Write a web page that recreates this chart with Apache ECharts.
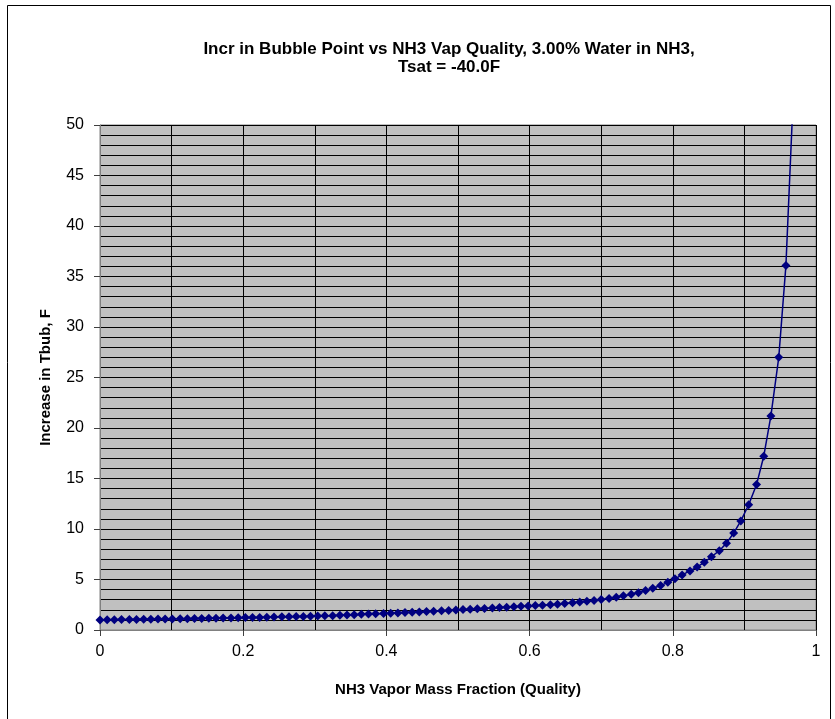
<!DOCTYPE html>
<html>
<head>
<meta charset="utf-8">
<script src="https://cdn.jsdelivr.net/npm/echarts@6/dist/echarts.min.js"></script>
<style>
  html, body { margin: 0; padding: 0; background: #fff; }
  #chart { width: 835px; height: 719px; }
</style>
</head>
<body>
<div id="chart"></div>
<script>
// vapor quality (x)
const quality = [
  0, 0.010, 0.020, 0.030, 0.041, 0.051, 0.061, 0.071, 0.081, 0.091,
  0.101, 0.112, 0.122, 0.132, 0.142, 0.152, 0.162, 0.172, 0.183, 0.193,
  0.203, 0.213, 0.223, 0.233, 0.243, 0.254, 0.264, 0.274, 0.284, 0.294,
  0.304, 0.314, 0.325, 0.335, 0.345, 0.355, 0.365, 0.375, 0.385, 0.396,
  0.406, 0.416, 0.426, 0.436, 0.446, 0.456, 0.466, 0.477, 0.487, 0.497,
  0.507, 0.517, 0.527, 0.537, 0.548, 0.558, 0.568, 0.578, 0.588, 0.598,
  0.608, 0.618, 0.629, 0.639, 0.649, 0.660, 0.670, 0.680, 0.690, 0.700,
  0.711, 0.721, 0.731, 0.742, 0.752, 0.762, 0.772, 0.783, 0.793, 0.803,
  0.813, 0.824, 0.834, 0.844, 0.854, 0.865, 0.875, 0.885, 0.895, 0.906,
  0.917, 0.927, 0.937, 0.948, 0.958, 0.968
]
// increase in bubble point temperature, F
const tbubIncrease = [
  1.00, 1.01, 1.02, 1.03, 1.04, 1.05, 1.06, 1.07, 1.08, 1.09,
  1.10, 1.11, 1.12, 1.14, 1.15, 1.16, 1.17, 1.19, 1.20, 1.21,
  1.23, 1.24, 1.25, 1.27, 1.28, 1.30, 1.31, 1.33, 1.34, 1.36,
  1.38, 1.40, 1.42, 1.45, 1.49, 1.52, 1.55, 1.58, 1.60, 1.63,
  1.66, 1.69, 1.73, 1.76, 1.79, 1.83, 1.86, 1.90, 1.94, 1.98,
  2.02, 2.06, 2.10, 2.14, 2.18, 2.22, 2.26, 2.30, 2.34, 2.38,
  2.42, 2.46, 2.50, 2.56, 2.62, 2.69, 2.76, 2.84, 2.92, 3.02,
  3.13, 3.25, 3.38, 3.53, 3.70, 3.90, 4.13, 4.40, 4.72, 5.07,
  5.45, 5.85, 6.25, 6.70, 7.25, 7.85, 8.60, 9.60, 10.8, 12.4,
  14.4, 17.2, 21.2, 27.0, 36.1, 52.5
]
const titleLines = ['Incr in Bubble Point vs NH3 Vap Quality, 3.00% Water in NH3,', 'Tsat = -40.0F']
const xName = 'NH3 Vapor Mass Fraction (Quality)'
const yName = 'Increase in Tbub, F'

const font = '"Liberation Sans", Arial, sans-serif'
const chart = echarts.init(document.getElementById('chart'), null, { renderer: 'canvas' })

chart.setOption({
  animation: false,
  backgroundColor: '#fff',
  textStyle: { fontFamily: font },
  title: {
    text: titleLines.join('\n'),
    left: 444,
    top: 35,
    textAlign: 'center',
    textStyle: { fontSize: 17, fontWeight: 'bold', color: '#000', lineHeight: 18, fontFamily: font }
  },
  graphic: [
    {
      type: 'rect',
      shape: { x: 7.5, y: 5.5, width: 823, height: 730 },
      style: { fill: null, stroke: '#000', lineWidth: 1 },
      silent: true
    }
  ],
  grid: {
    left: 100,
    right: 19,
    top: 125,
    bottom: 89,
    show: true,
    backgroundColor: '#c0c0c0',
    borderColor: '#808080',
    borderWidth: 1
  },
  xAxis: {
    type: 'value',
    min: 0,
    max: 1,
    interval: 0.2,
    name: xName,
    nameLocation: 'middle',
    nameGap: 52,
    nameTextStyle: { fontSize: 15, fontWeight: 'bold', color: '#000' },
    axisLine: { lineStyle: { color: '#808080' } },
    axisTick: { length: 6, lineStyle: { color: '#404040' } },
    axisLabel: { fontSize: 16, color: '#000', margin: 14 },
    splitLine: { show: true, lineStyle: { color: '#000', width: 1 } },
    minorTick: { show: false, splitNumber: 2 },
    minorSplitLine: { show: true, lineStyle: { color: '#000', width: 1 } }
  },
  yAxis: {
    type: 'value',
    min: 0,
    max: 50,
    interval: 5,
    name: yName,
    nameLocation: 'middle',
    nameGap: 47,
    nameTextStyle: { fontSize: 15, fontWeight: 'bold', color: '#000' },
    axisLine: { show: true, lineStyle: { color: '#808080' } },
    axisTick: { show: true, length: 6, lineStyle: { color: '#404040' } },
    axisLabel: { fontSize: 16, color: '#000', margin: 16 },
    splitLine: { show: true, lineStyle: { color: '#000', width: 1 } },
    minorTick: { show: false, splitNumber: 5 },
    minorSplitLine: { show: true, lineStyle: { color: '#000', width: 1 } }
  },
  series: [
    {
      type: 'line',
      data: quality.map((q, i) => [q, tbubIncrease[i]]),
      symbol: 'diamond',
      symbolSize: 9,
      showAllSymbol: true,
      clip: true,
      lineStyle: { color: '#000080', width: 1.5 },
      itemStyle: { color: '#000080' }
    }
  ]
})
</script>
</body>
</html>
